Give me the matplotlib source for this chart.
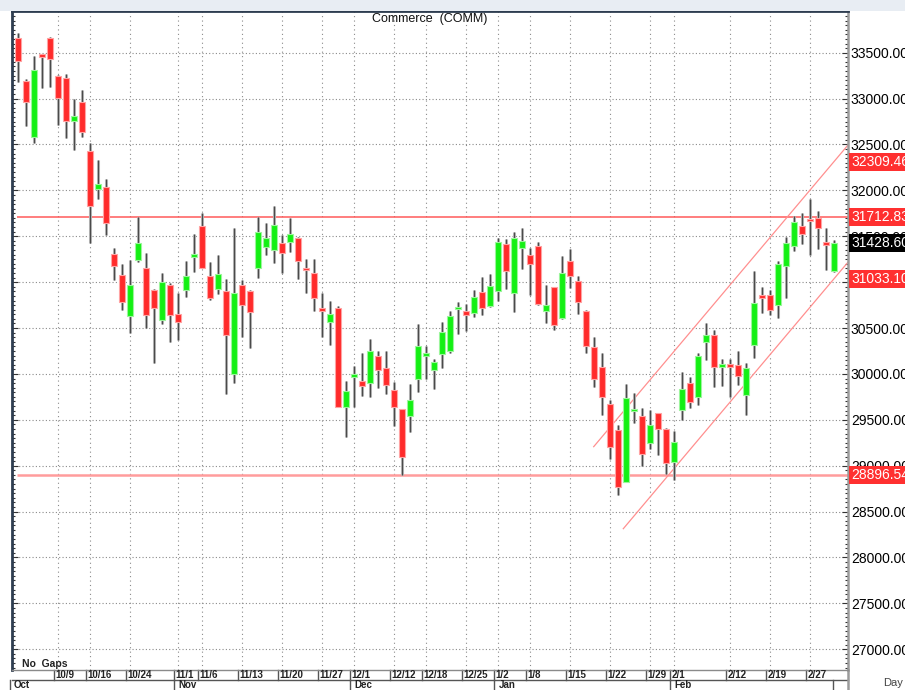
import matplotlib
matplotlib.use("Agg")
import matplotlib.pyplot as plt
from matplotlib.patches import Rectangle
from matplotlib.lines import Line2D
import numpy as np

plt.rcParams['font.family'] = ['Liberation Sans', 'DejaVu Sans']

# ---------------- data ----------------
opens = [33657, 33192, 32585, 33475, 33663, 33249, 33228, 32753, 32960, 32432,
         32018, 32040, 31307, 31081, 30631, 31238, 31151, 30914, 30591, 30972,
         30650, 30914, 31271, 31609, 31067, 30929, 30903, 29999, 30972, 30903,
         31157, 31386, 31350, 31430, 31441, 31484, 31157, 31096, 30707, 30569,
         30715, 29636, 29966, 29926, 29898, 30195, 30068, 29825, 29614, 29541,
         29941, 30199, 30043, 30217, 30253, 30704, 30689, 30667, 30889, 30740,
         30907, 31416, 30885, 31375, 31292, 31397, 30682, 30947, 30606, 31234,
         31013, 30689, 30297, 30072, 29672, 29389, 28826, 29595, 29541, 29244,
         29571, 29403, 29040, 29607, 29904, 29745, 30345, 30424, 30079, 30108,
         30093, 29770, 30315, 30852, 30860, 30751, 31176, 31394, 31615, 31677,
         31702, 31441, 31121]
highs = [33718, 33213, 33464, 33478, 33670, 33257, 33265, 32996, 33094, 32513,
         32328, 32120, 31375, 31194, 31241, 31713, 31314, 30925, 31096, 30987,
         30878, 31230, 31521, 31750, 31219, 31296, 31031, 31593, 31023, 30910,
         31713, 31641, 31830, 31514, 31696, 31490, 31252, 31252, 30878, 30798,
         30740, 29926, 30088, 30225, 30377, 30250, 30250, 29915, 29620, 29890,
         30544, 30307, 30159, 30569, 30689, 30780, 30762, 30914, 31059, 31089,
         31477, 31470, 31550, 31587, 31369, 31441, 30966, 30950, 31285, 31358,
         31067, 30695, 30406, 30231, 29716, 29443, 29890, 29796, 29632, 29607,
         29575, 29410, 29381, 30024, 29970, 30225, 30552, 30479, 30159, 30159,
         30250, 30116, 31125, 30944, 30914, 31234, 31489, 31721, 31757, 31903,
         31775, 31587, 31459]
lows = [33184, 32705, 32513, 33112, 33130, 32712, 32567, 32440, 32585, 31430,
        31909, 31514, 31023, 30696, 30443, 31220, 30497, 30122, 30544, 30345,
        30370, 30841, 31114, 31150, 30805, 30871, 29781, 29904, 30406, 30279,
        31048, 31296, 31205, 31103, 31332, 31031, 30878, 30689, 30399, 30315,
        29640, 29316, 29643, 29759, 29752, 29843, 29781, 29433, 28899, 29370,
        29806, 29941, 29833, 30061, 30225, 30432, 30471, 30617, 30642, 30733,
        30798, 30922, 30678, 31140, 30860, 30755, 30558, 30479, 30600, 30933,
        30656, 30231, 29861, 29552, 29070, 28681, 28820, 29462, 28997, 29178,
        29117, 28910, 28844, 29493, 29632, 29661, 30152, 29855, 29868, 29745,
        29879, 29552, 30170, 30664, 30642, 30613, 30824, 31343, 31416, 31296,
        31358, 31132, 31115]
closes = [33410, 32966, 33308, 33455, 33428, 33010, 32759, 32807, 32633, 31830,
          32069, 31641, 31173, 30780, 30972, 31423, 30639, 30715, 30998, 30639,
          30566, 31070, 31307, 31154, 30824, 31092, 30424, 30882, 30754, 30678,
          31546, 31478, 31623, 31314, 31525, 31230, 31129, 30831, 30689, 30650,
          29643, 29817, 29996, 29872, 30250, 30043, 29879, 29643, 29098, 29716,
          30307, 30231, 30127, 30457, 30631, 30722, 30642, 30841, 30715, 30958,
          31437, 31125, 31484, 31448, 31198, 30759, 30748, 30533, 31096, 31064,
          30780, 30307, 29941, 29752, 29200, 28771, 29734, 29610, 29124, 29443,
          29396, 29033, 29255, 29836, 29697, 30199, 30421, 30072, 30108, 30079,
          29977, 30061, 30776, 30831, 30697, 31198, 31423, 31659, 31521, 31663,
          31587, 31405, 31428.60]

tick_idx = [5, 9, 14, 20, 23, 28, 33, 38, 42, 47, 51, 56, 60, 64, 69, 74, 79, 82, 89, 94, 99]
tick_labels = ['10/9', '10/16', '10/24', '11/1', '11/6', '11/13', '11/20', '11/27', '12/1',
               '12/12', '12/18', '12/25', '1/2', '1/8', '1/15', '1/22', '1/29', '2/1',
               '2/12', '2/19', '2/27']
month_idx = [-0.55, 20, 42, 60, 82]
month_labels = ['Oct', 'Nov', 'Dec', 'Jan', 'Feb']

resistance = 31712.83
support = 28896.54
channel_upper_end = 32309.46
channel_lower_end = 31033.10
channel_slope = 103.4          # points per bar
channel_upper_start_idx = 72
channel_lower_start_idx = 75.7
last_close_label = 31428.60

y_major = list(range(27000, 34000, 500))

# ---------------- figure ----------------
W, H = 905, 690
fig = plt.figure(figsize=(W / 100, H / 100), dpi=100, facecolor='white')

# top window chrome
fig.patches.append(Rectangle((0, 1 - 11 / H), 1, 11 / H, transform=fig.transFigure,
                             facecolor='#e8edf3', edgecolor='none', zorder=0))

ax_l, ax_r, ax_t, ax_b = 12, 848, 11, 670
ax = fig.add_axes([ax_l / W, 1 - ax_b / H, (ax_r - ax_l) / W, (ax_b - ax_t) / H])
ax.set_facecolor('white')

n = len(opens)
x = np.arange(n)
x_left = (ax_l - 17.7) / 8
x_right = (ax_r - 17.7) / 8
ax.set_xlim(x_left, x_right)
ypx = 0.09178
ax.set_ylim(33500 - (ax_b - 52.7) / ypx, 33500 + (52.7 - ax_t) / ypx)

# grid
for v in y_major:
    ax.axhline(v, color='#8a8a8a', lw=0.8, ls=(0, (1, 2)), zorder=1)
for t in tick_idx:
    ax.axvline(t, color='#8a8a8a', lw=0.8, ls=(0, (1, 3)), zorder=1)

# support / resistance
ax.hlines(resistance, -0.05, x_right, color='#ff5a5a', lw=1.1, zorder=2)
ax.hlines(support, -0.05, x_right, color='#ff9c9c', lw=1.8, zorder=2)

# channel
for start, endv in [(channel_upper_start_idx, channel_upper_end),
                    (channel_lower_start_idx, channel_lower_end)]:
    xs = np.array([start, x_right])
    ys = endv + channel_slope * (xs - (n - 1))
    ax.plot(xs, ys, color='#ff8f8f', lw=0.9, zorder=2)

# candles
o = np.array(opens, float); c = np.array(closes, float)
h = np.array(highs, float); l = np.array(lows, float)
up = c >= o
ax.vlines(x, l, h, color='#bdbdbd', lw=2.2, zorder=3)
ax.vlines(x, l, h, color='#4a4a4a', lw=0.9, zorder=3)
bottoms = np.minimum(o, c)
heights = np.maximum(np.abs(c - o), 28)
cols = np.where(up, '#14f014', '#ff2b2b')
edges = np.where(up, '#9cf59c', '#ffa3a3')
ax.bar(x, heights, bottom=bottoms, width=0.72, color=cols, edgecolor=edges,
       linewidth=0.8, zorder=4)

# axes styling
ax.set_xticks([])
ax.set_yticks(y_major)
ax.set_yticks(list(range(26800, 34000, 50)), minor=True)
ax.yaxis.tick_right()
ax.tick_params(axis='y', which='both', direction='in', left=True, right=True,
               labelleft=False, labelright=True, colors='#333333')
ax.tick_params(axis='y', which='major', length=4, width=0.8, pad=2,
               labelsize=10, labelcolor='black')
ax.tick_params(axis='y', which='minor', length=2.5, width=0.8)
ax.set_yticklabels([f'{v:.2f}' for v in y_major])
for sp in ['left', 'top']:
    ax.spines[sp].set_color('#2e3d50')
    ax.spines[sp].set_linewidth(2)
ax.spines['right'].set_color('#9a9a9a')
ax.spines['right'].set_linewidth(1.8)
ax.spines['bottom'].set_color('#8a8a8a')
ax.spines['bottom'].set_linewidth(1)

# value boxes on right axis
ytr = ax.get_yaxis_transform()
for v, fc in [(channel_upper_end, '#ff3030'), (resistance, '#ff3030'),
              (channel_lower_end, '#ff3030'), (support, '#ff3030'),
              (last_close_label, 'black')]:
    ax.text(1.004, v, f'{v:.2f}', transform=ytr, ha='left', va='center',
            fontsize=10, color='white', clip_on=False, zorder=10,
            bbox=dict(facecolor=fc, edgecolor='none', pad=1.6))

# title and notes
fig.text(430 / W, 1 - 19 / H, 'Commerce  (COMM)', ha='center', va='center',
         fontsize=9, color='#111111')
fig.text(22 / W, 1 - 664 / H, 'No  Gaps', fontsize=7.5, fontweight='bold',
         color='#222222', ha='left', va='center')
fig.text(893 / W, 1 - 683 / H, 'Day', fontsize=8, color='#444444',
         ha='center', va='center')

# date band and month band (below axes)
xtr = ax.get_xaxis_transform()
band1 = -(680 - ax_b) / (ax_b - ax_t)
band2 = -(H - ax_b) / (ax_b - ax_t)
ax.add_line(Line2D([0, 1], [band1, band1], transform=ax.transAxes, color='#555555',
                   lw=1, clip_on=False))
for t, lab in zip(tick_idx, tick_labels):
    ax.add_line(Line2D([t - 0.45, t - 0.45], [0, band1], transform=xtr, color='#555555',
                       lw=1, clip_on=False))
    ax.text(t - 0.3, band1 / 2, lab, transform=xtr, fontsize=7, fontweight='bold',
            ha='left', va='center', clip_on=False, color='#222222')
for t, lab in zip(month_idx, month_labels):
    ax.add_line(Line2D([t - 0.45, t - 0.45], [band1, band2], transform=xtr,
                       color='#555555', lw=1, clip_on=False))
    ax.text(t + 0.1, band1 + (band2 - band1) * 0.55, lab, transform=xtr, fontsize=7,
            fontweight='bold', ha='left', va='center', clip_on=False, color='#222222')
ax.add_line(Line2D([(833 - 17.7) / 8] * 2, [band1, band2], transform=xtr,
                   color='#555555', lw=1, clip_on=False))
ax.add_line(Line2D([1, 1], [0, band2], transform=ax.transAxes, color='#9a9a9a',
                   lw=1.8, clip_on=False))

fig.savefig('out.png', dpi=100, facecolor='white')
